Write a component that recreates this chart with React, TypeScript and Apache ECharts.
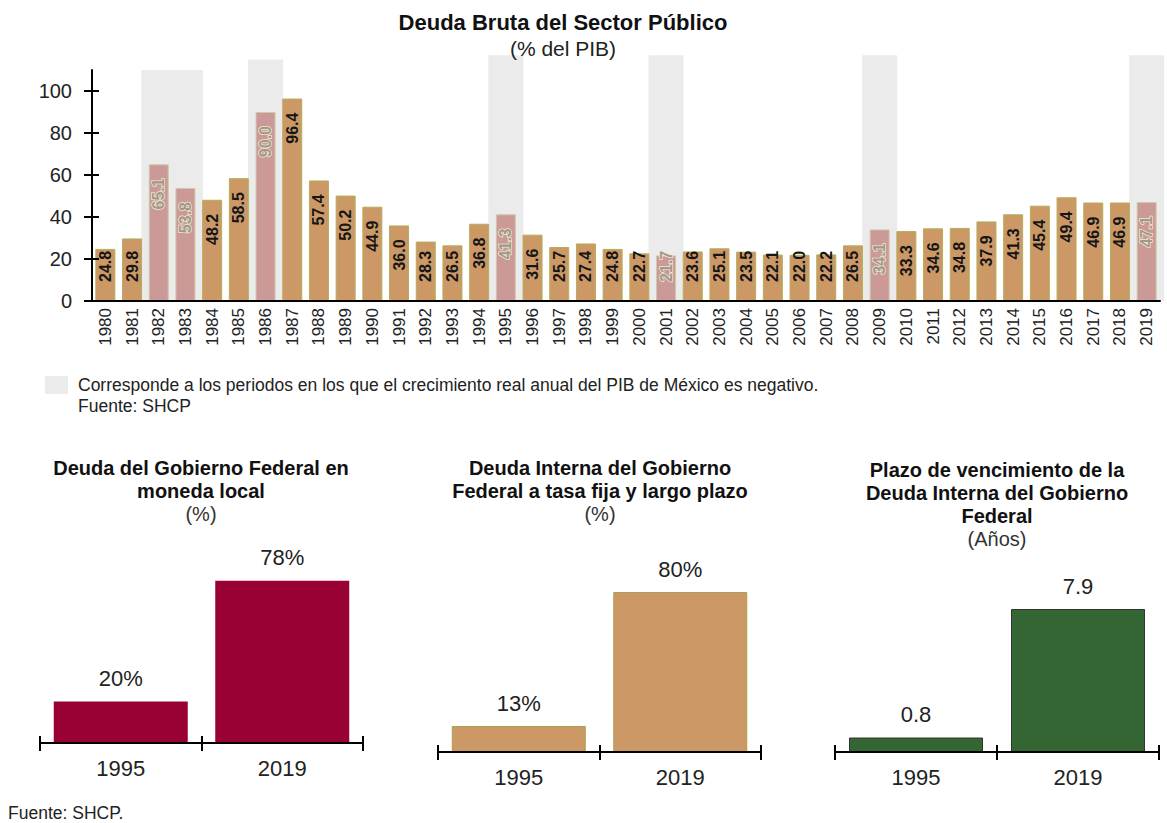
import React, { useEffect, useRef } from "react";
import * as echarts from "echarts";

const years = [
  "1980", "1981", "1982", "1983", "1984", "1985", "1986", "1987", "1988", "1989",
  "1990", "1991", "1992", "1993", "1994", "1995", "1996", "1997", "1998", "1999",
  "2000", "2001", "2002", "2003", "2004", "2005", "2006", "2007", "2008", "2009",
  "2010", "2011", "2012", "2013", "2014", "2015", "2016", "2017", "2018", "2019",
];
const debt = [
  24.8, 29.8, 65.1, 53.8, 48.2, 58.5, 90.0, 96.4, 57.4, 50.2,
  44.9, 36.0, 28.3, 26.5, 36.8, 41.3, 31.6, 25.7, 27.4, 24.8,
  22.7, 21.7, 23.6, 25.1, 23.5, 22.1, 22.0, 22.2, 26.5, 34.1,
  33.3, 34.6, 34.8, 37.9, 41.3, 45.4, 49.4, 46.9, 46.9, 47.1,
];
const recessionYears = ["1982", "1983", "1986", "1995", "2001", "2009", "2019"];
const shadeTops = [110, 110, 115, 117, 117, 117, 117];
const yTicks = [0, 20, 40, 60, 80, 100];

const fedCats = ["1995", "2019"];
const localCurrency = [20, 78];
const fixedRate = [13, 80];
const maturity = [0.8, 7.9];

const LEGEND_TEXT =
  "Corresponde a los periodos en los que el crecimiento real anual del PIB de México es negativo.";
const FONT = "'Liberation Sans', Arial, Helvetica, sans-serif";
const ORANGE = "#CC9966";
const PINK = "#CC9999";
const MAROON = "#990033";
const GREEN = "#336633";
const SHADE = "#EBEBEB";

export default function App() {
  const ref = useRef<HTMLDivElement>(null);

  useEffect(() => {
    document.body.style.margin = "0";
    if (!ref.current) return;
    const chart = echarts.init(ref.current, undefined, { renderer: "svg" });

    const mainData = years.map((y, i) => {
      const v = debt[i];
      const rec = recessionYears.includes(y);
      const low = v < 31.4;
      return {
        value: v,
        itemStyle: rec ? { color: PINK, borderColor: "#cfc9a4" } : undefined,
        label: {
          position: low ? "insideBottom" : "insideTop",
          align: low ? "left" : "right",
          distance: low ? 19 : 14,
          color: rec ? "#a39592" : "#151515",
          textBorderColor: rec ? "#efedc6" : "transparent",
          textBorderWidth: rec ? 1.5 : 0,
        },
      };
    });

    const shadeData = years.map((y) => {
      const k = recessionYears.indexOf(y);
      return k >= 0 ? shadeTops[k] : null;
    });

    const smallGrids = [
      { left: 40, top: 535, width: 323, height: 208 },
      { left: 438, top: 552, width: 323, height: 200 },
      { left: 835, top: 571, width: 324, height: 181 },
    ];

    const smallX: any[] = [];
    const smallY: any[] = [];
    [1, 2, 3].forEach((g) => {
      smallX.push({
        gridIndex: g,
        type: "category",
        data: fedCats,
        position: "bottom",
        axisLine: { show: true, lineStyle: { color: "#000", width: 2 } },
        axisTick: { show: true, length: 8, lineStyle: { color: "#000", width: 2 } },
        axisLabel: { fontSize: 22, color: "#222", margin: 14, fontFamily: FONT },
        z: 5,
      });
      smallX.push({
        gridIndex: g,
        type: "category",
        data: fedCats,
        position: "bottom",
        axisLine: { show: false },
        axisTick: { show: true, inside: true, length: 7, lineStyle: { color: "#000", width: 2 } },
        axisLabel: { show: false },
        z: 5,
      });
      smallY.push({
        gridIndex: g,
        type: "value",
        min: 0,
        max: g === 3 ? 10 : 100,
        show: false,
        splitLine: { show: false },
      });
    });

    const smallTitle = (text: string, sub: string, left: number, top: number) => ({
      text,
      subtext: sub,
      left,
      top,
      textAlign: "center",
      padding: 0,
      itemGap: 0,
      textStyle: { fontSize: 20, fontWeight: "bold", color: "#111", lineHeight: 23, fontFamily: FONT },
      subtextStyle: { fontSize: 20, color: "#333", lineHeight: 23, fontFamily: FONT },
    });

    const smallSeries = (
      data: number[],
      xi: number,
      yi: number,
      color: string,
      border: string | undefined,
      fmt: (v: number) => string
    ) => ({
      type: "bar",
      xAxisIndex: xi,
      yAxisIndex: yi,
      data,
      barWidth: 134,
      itemStyle: { color, borderColor: border, borderWidth: border ? 1 : 0 },
      label: {
        show: true,
        position: "top",
        distance: 12,
        fontSize: 22,
        color: "#222",
        fontFamily: FONT,
        formatter: (p: any) => fmt(p.value),
      },
      z: 3,
    });

    const option: any = {
      animation: false,
      textStyle: { fontFamily: FONT },
      title: [
        {
          text: "Deuda Bruta del Sector Público",
          subtext: "(% del PIB)",
          left: 563,
          top: 10,
          textAlign: "center",
          padding: 0,
          itemGap: 2,
          textStyle: { fontSize: 22, fontWeight: "bold", color: "#111", lineHeight: 24, fontFamily: FONT },
          subtextStyle: { fontSize: 21, color: "#222", lineHeight: 24, fontFamily: FONT },
        },
        smallTitle("Deuda del Gobierno Federal en\nmoneda local", "(%)", 201, 456),
        smallTitle("Deuda Interna del Gobierno\nFederal a tasa fija y largo plazo", "(%)", 600, 456),
        smallTitle(
          "Plazo de vencimiento de la\nDeuda Interna del Gobierno\nFederal",
          "(Años)",
          997,
          458
        ),
        {
          text: "Fuente: SHCP",
          left: 78,
          top: 397,
          padding: 0,
          textStyle: { fontSize: 17.5, fontWeight: "normal", color: "#222", fontFamily: FONT },
        },
        {
          text: "Fuente: SHCP.",
          left: 8,
          top: 804,
          padding: 0,
          textStyle: { fontSize: 17.5, fontWeight: "normal", color: "#222", fontFamily: FONT },
        },
      ],
      legend: {
        data: [LEGEND_TEXT],
        left: 45,
        top: 376,
        padding: 0,
        itemWidth: 23,
        itemHeight: 18,
        icon: "rect",
        selectedMode: false,
        textStyle: { fontSize: 17.5, color: "#222", padding: [0, 0, 0, 5], fontFamily: FONT },
      },
      grid: [{ left: 92, top: 70, width: 1068, height: 231 }, ...smallGrids],
      xAxis: [
        {
          gridIndex: 0,
          type: "category",
          data: years,
          position: "bottom",
          axisLine: { show: true, lineStyle: { color: "#000", width: 2 } },
          axisTick: { show: false },
          axisLabel: { rotate: 90, fontSize: 17, color: "#222", margin: 7, interval: 0, fontFamily: FONT },
          z: 5,
        },
        { gridIndex: 0, type: "category", data: years, show: false },
        ...smallX,
      ],
      yAxis: [
        {
          gridIndex: 0,
          type: "value",
          min: 0,
          max: 110,
          position: "left",
          axisLine: { show: true, lineStyle: { color: "#000", width: 2 } },
          axisTick: { show: true, length: 8, customValues: yTicks, lineStyle: { color: "#000", width: 2 } },
          axisLabel: { customValues: yTicks, fontSize: 20, color: "#222", margin: 20, fontFamily: FONT },
          splitLine: { show: false },
          z: 5,
        },
        {
          gridIndex: 0,
          type: "value",
          min: 0,
          max: 110,
          position: "left",
          axisLine: { show: false },
          axisTick: { show: true, inside: true, length: 7, customValues: yTicks, lineStyle: { color: "#000", width: 2 } },
          axisLabel: { show: false },
          splitLine: { show: false },
          z: 5,
        },
        ...smallY,
      ],
      series: [
        {
          name: LEGEND_TEXT,
          type: "bar",
          xAxisIndex: 1,
          yAxisIndex: 0,
          data: shadeData,
          barWidth: 35,
          clip: false,
          silent: true,
          itemStyle: { color: SHADE },
          z: 1,
        },
        {
          name: "Deuda",
          type: "bar",
          xAxisIndex: 0,
          yAxisIndex: 0,
          data: mainData,
          barWidth: 20,
          itemStyle: { color: ORANGE, borderColor: "#b3ae5a", borderWidth: 1 },
          label: {
            show: true,
            rotate: 90,
            verticalAlign: "middle",
            fontSize: 16,
            fontWeight: "bold",
            fontFamily: FONT,
            formatter: (p: any) => Number(p.value).toFixed(1),
          },
          z: 3,
        },
        smallSeries(localCurrency, 2, 2, MAROON, undefined, (v) => `${v}%`),
        smallSeries(fixedRate, 4, 3, ORANGE, "#a9a150", (v) => `${v}%`),
        smallSeries(maturity, 6, 4, GREEN, "#333333", (v) => Number(v).toFixed(1)),
      ],
    };

    chart.setOption(option);
    return () => chart.dispose();
  }, []);

  return <div ref={ref} style={{ width: 1167, height: 823 }} />;
}
